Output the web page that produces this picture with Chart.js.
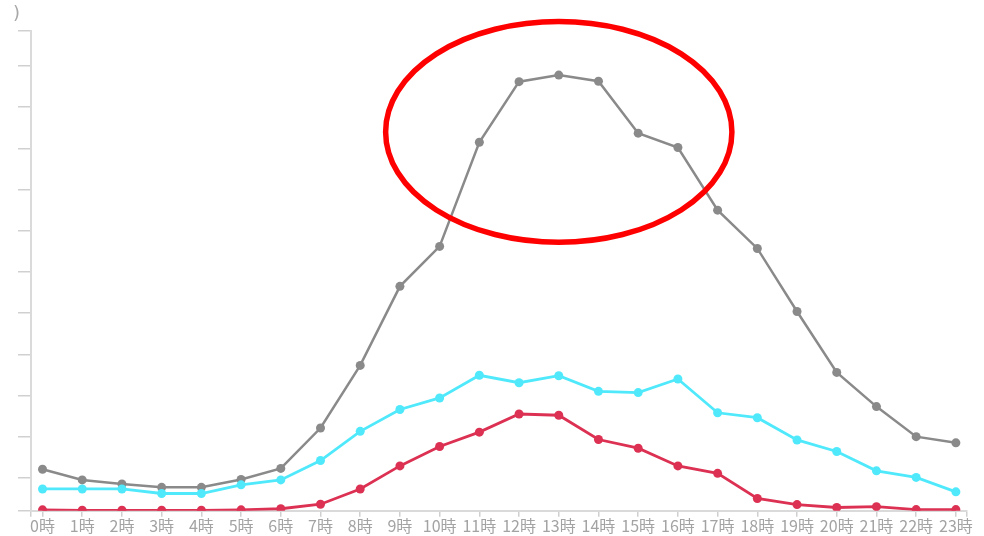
<!DOCTYPE html>
<html>
<head>
<meta charset="utf-8">
<script src="https://cdn.jsdelivr.net/npm/chart.js@4.4.1/dist/chart.umd.min.js"></script>
<style>
html,body{margin:0;padding:0;background:#fff;}
#wrap{width:984px;height:536px;}
</style>
</head>
<body>
<div id="wrap"><canvas id="c" width="984" height="536"></canvas></div>
<script>
// categories
const hours = ['0時','1時','2時','3時','4時','5時','6時','7時','8時','9時','10時','11時','12時','13時','14時','15時','16時','17時','18時','19時','20時','21時','22時','23時'];
// series values
const seriesGray = [10.1, 7.5, 6.5, 5.7, 5.7, 7.6, 10.3, 20.1, 35.3, 54.5, 64.2, 89.5, 104.2, 105.8, 104.3, 91.7, 88.2, 73.0, 63.7, 48.4, 33.6, 25.3, 18.0, 16.5];
const seriesCyan = [5.3, 5.3, 5.3, 4.2, 4.2, 6.3, 7.5, 12.2, 19.3, 24.6, 27.4, 32.9, 31.1, 32.8, 29.0, 28.7, 32.0, 23.8, 22.6, 17.2, 14.4, 9.7, 8.1, 4.6];
const seriesRed  = [0.24, 0.12, 0.12, 0.12, 0.12, 0.24, 0.5, 1.6, 5.3, 10.9, 15.6, 19.1, 23.5, 23.2, 17.3, 15.2, 10.9, 9.1, 3.0, 1.5, 0.8, 1.0, 0.3, 0.3];
// y tick positions (labels are cut off in the picture)
const yTicks = [0, 8, 18, 28, 38, 48, 58, 68, 78, 88, 98, 108, 116.5];
const yMin = 0, yMax = 116.5;
const xMin = -0.29, xMax = 23.28;
// highlight ellipse around the peak (in data units)
const highlight = {cx: 13, cy: 92, rx: 4.36, ry: 26.8};

const toPts = arr => arr.map((v, i) => ({x: i, y: v}));

const ellipsePlugin = {
  id: 'extras',
  afterDraw(chart) {
    const {ctx, scales: {x, y}} = chart;
    ctx.save();
    // partial axis unit text at top-left
    ctx.fillStyle = '#a8a8a8';
    ctx.font = '18px "DejaVu Sans", sans-serif';
    ctx.textBaseline = 'middle';
    ctx.textAlign = 'left';
    ctx.fillText(')', 13, 14);
    // red highlight ellipse
    const cx = x.getPixelForValue(highlight.cx);
    const cy = y.getPixelForValue(highlight.cy);
    const rx = Math.abs(x.getPixelForValue(highlight.cx + highlight.rx) - cx);
    const ry = Math.abs(y.getPixelForValue(highlight.cy + highlight.ry) - cy);
    ctx.beginPath();
    ctx.ellipse(cx, cy, rx, ry, 0, 0, Math.PI * 2);
    ctx.strokeStyle = '#ff0000';
    ctx.lineWidth = 5.5;
    ctx.stroke();
    ctx.restore();
  }
};

const mk = (data, color, w) => ({
  data: toPts(data),
  borderColor: color,
  backgroundColor: color,
  pointBackgroundColor: color,
  pointBorderColor: color,
  pointBorderWidth: 0,
  pointRadius: 4.5,
  borderWidth: w,
  tension: 0,
  fill: false
});

new Chart(document.getElementById('c'), {
  type: 'line',
  data: {
    datasets: [
      mk(seriesRed, '#dc3152', 2.8),
      mk(seriesCyan, '#4fe9fb', 2.8),
      mk(seriesGray, '#8a8a8a', 2.5)
    ]
  },
  options: {
    responsive: false,
    animation: false,
    layout: {padding: {left: 18, top: 31, right: 17, bottom: 0}},
    plugins: {legend: {display: false}, tooltip: {enabled: false}},
    scales: {
      x: {
        type: 'linear',
        min: xMin, max: xMax,
        afterBuildTicks(scale) {
          const t = [{value: xMin}];
          hours.forEach((h, i) => t.push({value: i}));
          t.push({value: xMax});
          scale.ticks = t;
        },
        ticks: {
          autoSkip: false,
          maxRotation: 0,
          padding: 0,
          color: '#a3a3a3',
          font: {family: '"Noto Sans CJK JP", sans-serif', size: 16},
          callback: (v) => Number.isInteger(v) ? hours[v] : ''
        },
        grid: {drawOnChartArea: false, drawTicks: true, tickLength: 6, color: '#d0d0d0', lineWidth: 1.5},
        border: {color: '#dadada', width: 2}
      },
      y: {
        type: 'linear',
        min: yMin, max: yMax,
        afterBuildTicks(scale) { scale.ticks = yTicks.map(v => ({value: v})); },
        ticks: {display: false},
        grid: {drawOnChartArea: false, drawTicks: true, tickLength: 13, color: '#d0d0d0', lineWidth: 1.5},
        border: {color: '#dadada', width: 2}
      }
    }
  },
  plugins: [ellipsePlugin]
});
</script>
</body>
</html>
